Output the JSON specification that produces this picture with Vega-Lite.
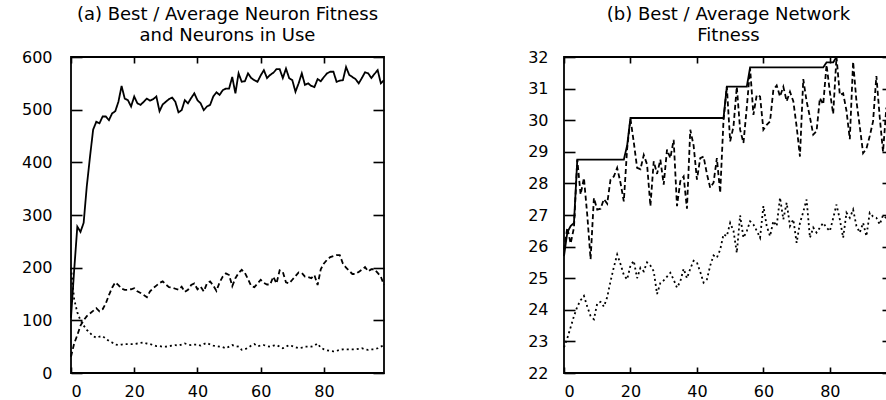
{
  "$schema": "https://vega.github.io/schema/vega-lite/v6.json",
  "background": "white",
  "padding": {"left": 20, "top": 4, "right": 0, "bottom": 0},
  "config": {
    "view": {"stroke": "black", "strokeWidth": 1.8},
    "axis": {"domain": false, "grid": false, "labelFont": "DejaVu Sans", "labelFontSize": 16, "labelColor": "black", "tickColor": "black", "tickWidth": 1.6, "title": null},
    "title": {"font": "DejaVu Sans", "fontSize": 18, "fontWeight": "normal", "color": "black", "lineHeight": 21.5, "offset": 4}
  },
  "datasets": {
    "neuron": [
      {"gen":0,"best":105,"avg":31,"third":200},{"gen":1,"best":195,"avg":56,"third":140},{"gen":2,"best":278,"avg":72,"third":115},{"gen":3,"best":268,"avg":90,"third":100},{"gen":4,"best":285,"avg":100,"third":90},
      {"gen":5,"best":355,"avg":108,"third":82},{"gen":6,"best":410,"avg":113,"third":76},{"gen":7,"best":462,"avg":118,"third":70},{"gen":8,"best":477,"avg":123,"third":67},{"gen":9,"best":474,"avg":117,"third":69},
      {"gen":10,"best":487,"avg":121,"third":70},{"gen":11,"best":487,"avg":132,"third":65},{"gen":12,"best":480,"avg":148,"third":61},{"gen":13,"best":493,"avg":162,"third":58},{"gen":14,"best":497,"avg":172,"third":54},
      {"gen":15,"best":515,"avg":167,"third":53},{"gen":16,"best":545,"avg":160,"third":54},{"gen":17,"best":521,"avg":158,"third":55},{"gen":18,"best":518,"avg":158,"third":55},{"gen":19,"best":506,"avg":159,"third":55},
      {"gen":20,"best":525,"avg":161,"third":55},{"gen":21,"best":512,"avg":155,"third":56},{"gen":22,"best":509,"avg":152,"third":57},{"gen":23,"best":515,"avg":148,"third":58},{"gen":24,"best":521,"avg":144,"third":56},
      {"gen":25,"best":517,"avg":155,"third":55},{"gen":26,"best":520,"avg":161,"third":53},{"gen":27,"best":525,"avg":166,"third":51},{"gen":28,"best":497,"avg":171,"third":51},{"gen":29,"best":510,"avg":174,"third":50},
      {"gen":30,"best":515,"avg":168,"third":50},{"gen":31,"best":520,"avg":163,"third":51},{"gen":32,"best":523,"avg":162,"third":52},{"gen":33,"best":515,"avg":160,"third":53},{"gen":34,"best":495,"avg":158,"third":52},
      {"gen":35,"best":499,"avg":164,"third":54},{"gen":36,"best":518,"avg":154,"third":56},{"gen":37,"best":512,"avg":158,"third":54},{"gen":38,"best":522,"avg":167,"third":53},{"gen":39,"best":531,"avg":170,"third":54},
      {"gen":40,"best":518,"avg":159,"third":54},{"gen":41,"best":512,"avg":164,"third":52},{"gen":42,"best":499,"avg":155,"third":55},{"gen":43,"best":506,"avg":170,"third":57},{"gen":44,"best":509,"avg":174,"third":54},
      {"gen":45,"best":525,"avg":166,"third":52},{"gen":46,"best":533,"avg":156,"third":51},{"gen":47,"best":528,"avg":172,"third":50},{"gen":48,"best":537,"avg":183,"third":49},{"gen":49,"best":540,"avg":189,"third":47},
      {"gen":50,"best":540,"avg":186,"third":50},{"gen":51,"best":562,"avg":165,"third":53},{"gen":52,"best":531,"avg":180,"third":51},{"gen":53,"best":569,"avg":190,"third":50},{"gen":54,"best":553,"avg":196,"third":44},
      {"gen":55,"best":554,"avg":190,"third":45},{"gen":56,"best":569,"avg":178,"third":48},{"gen":57,"best":560,"avg":165,"third":52},{"gen":58,"best":556,"avg":163,"third":55},{"gen":59,"best":553,"avg":170,"third":51},
      {"gen":60,"best":565,"avg":177,"third":52},{"gen":61,"best":575,"avg":171,"third":53},{"gen":62,"best":560,"avg":168,"third":51},{"gen":63,"best":566,"avg":168,"third":50},{"gen":64,"best":570,"avg":183,"third":52},
      {"gen":65,"best":577,"avg":170,"third":53},{"gen":66,"best":577,"avg":195,"third":50},{"gen":67,"best":560,"avg":192,"third":47},{"gen":68,"best":578,"avg":172,"third":50},{"gen":69,"best":560,"avg":170,"third":53},
      {"gen":70,"best":556,"avg":177,"third":51},{"gen":71,"best":534,"avg":184,"third":49},{"gen":72,"best":550,"avg":191,"third":47},{"gen":73,"best":569,"avg":190,"third":48},{"gen":74,"best":547,"avg":183,"third":50},
      {"gen":75,"best":550,"avg":182,"third":50},{"gen":76,"best":545,"avg":180,"third":50},{"gen":77,"best":543,"avg":186,"third":52},{"gen":78,"best":558,"avg":167,"third":56},{"gen":79,"best":554,"avg":197,"third":48},
      {"gen":80,"best":562,"avg":208,"third":45},{"gen":81,"best":569,"avg":215,"third":43},{"gen":82,"best":572,"avg":220,"third":42},{"gen":83,"best":572,"avg":222,"third":41},{"gen":84,"best":553,"avg":224,"third":42},
      {"gen":85,"best":555,"avg":224,"third":44},{"gen":86,"best":556,"avg":208,"third":45},{"gen":87,"best":581,"avg":200,"third":45},{"gen":88,"best":566,"avg":194,"third":45},{"gen":89,"best":562,"avg":188,"third":45},
      {"gen":90,"best":558,"avg":188,"third":45},{"gen":91,"best":550,"avg":192,"third":46},{"gen":92,"best":560,"avg":196,"third":47},{"gen":93,"best":571,"avg":201,"third":45},{"gen":94,"best":569,"avg":193,"third":44},
      {"gen":95,"best":560,"avg":197,"third":45},{"gen":96,"best":568,"avg":197,"third":45},{"gen":97,"best":575,"avg":190,"third":47},{"gen":98,"best":550,"avg":183,"third":50},{"gen":99,"best":556,"avg":167,"third":53}
    ],
    "network": [
      {"gen":0,"best":25.7,"avg":25.9,"third":22.81},{"gen":1,"best":26.45,"avg":26.6,"third":23.1},{"gen":2,"best":26.65,"avg":26.1,"third":23.45},{"gen":3,"best":26.75,"avg":26.6,"third":23.8},{"gen":4,"best":28.75,"avg":28.75,"third":24.1},
      {"gen":5,"best":28.75,"avg":27.65,"third":24.3},{"gen":6,"best":28.75,"avg":28.17,"third":24.44},{"gen":7,"best":28.75,"avg":27.0,"third":24.1},{"gen":8,"best":28.75,"avg":25.6,"third":23.8},{"gen":9,"best":28.75,"avg":27.54,"third":23.7},
      {"gen":10,"best":28.75,"avg":27.17,"third":24.2},{"gen":11,"best":28.75,"avg":27.2,"third":24.25},{"gen":12,"best":28.75,"avg":27.5,"third":24.1},{"gen":13,"best":28.75,"avg":27.36,"third":24.4},{"gen":14,"best":28.75,"avg":28.12,"third":24.9},
      {"gen":15,"best":28.75,"avg":28.22,"third":25.35},{"gen":16,"best":28.75,"avg":28.49,"third":25.75},{"gen":17,"best":28.75,"avg":28.02,"third":25.45},{"gen":18,"best":28.75,"avg":27.43,"third":25.1},{"gen":19,"best":29.2,"avg":29.1,"third":24.96},
      {"gen":20,"best":30.07,"avg":30.05,"third":25.4},{"gen":21,"best":30.07,"avg":29.3,"third":25.55},{"gen":22,"best":30.07,"avg":28.49,"third":25.0},{"gen":23,"best":30.07,"avg":28.45,"third":25.33},{"gen":24,"best":30.07,"avg":28.9,"third":25.22},
      {"gen":25,"best":30.07,"avg":28.6,"third":25.5},{"gen":26,"best":30.07,"avg":27.28,"third":25.4},{"gen":27,"best":30.07,"avg":28.7,"third":25.22},{"gen":28,"best":30.07,"avg":28.3,"third":24.5},{"gen":29,"best":30.07,"avg":28.75,"third":24.85},
      {"gen":30,"best":30.07,"avg":27.96,"third":24.93},{"gen":31,"best":30.07,"avg":29.07,"third":25.05},{"gen":32,"best":30.07,"avg":28.8,"third":25.17},{"gen":33,"best":30.07,"avg":29.38,"third":24.95},{"gen":34,"best":30.07,"avg":27.28,"third":24.7},
      {"gen":35,"best":30.07,"avg":28.07,"third":24.9},{"gen":36,"best":30.07,"avg":28.22,"third":25.3},{"gen":37,"best":30.07,"avg":27.2,"third":25.0},{"gen":38,"best":30.07,"avg":29.7,"third":25.3},{"gen":39,"best":30.07,"avg":29.2,"third":25.55},
      {"gen":40,"best":30.07,"avg":28.12,"third":25.5},{"gen":41,"best":30.07,"avg":28.8,"third":25.2},{"gen":42,"best":30.07,"avg":28.85,"third":24.86},{"gen":43,"best":30.07,"avg":28.3,"third":24.96},{"gen":44,"best":30.07,"avg":27.86,"third":25.4},
      {"gen":45,"best":30.07,"avg":28.02,"third":25.72},{"gen":46,"best":30.07,"avg":28.8,"third":25.65},{"gen":47,"best":30.07,"avg":27.7,"third":25.9},{"gen":48,"best":30.07,"avg":30.0,"third":26.39},{"gen":49,"best":31.06,"avg":31.06,"third":26.33},
      {"gen":50,"best":31.06,"avg":29.33,"third":26.75},{"gen":51,"best":31.06,"avg":29.8,"third":26.5},{"gen":52,"best":31.06,"avg":31.06,"third":25.8},{"gen":53,"best":31.06,"avg":29.7,"third":26.99},{"gen":54,"best":31.06,"avg":29.28,"third":26.28},
      {"gen":55,"best":31.06,"avg":30.4,"third":26.49},{"gen":56,"best":31.67,"avg":31.64,"third":26.8},{"gen":57,"best":31.67,"avg":30.17,"third":26.7},{"gen":58,"best":31.67,"avg":30.8,"third":26.5},{"gen":59,"best":31.67,"avg":30.75,"third":26.28},
      {"gen":60,"best":31.67,"avg":29.7,"third":27.28},{"gen":61,"best":31.67,"avg":29.85,"third":26.65},{"gen":62,"best":31.67,"avg":29.96,"third":26.33},{"gen":63,"best":31.67,"avg":30.96,"third":26.81},{"gen":64,"best":31.67,"avg":31.1,"third":26.65},
      {"gen":65,"best":31.67,"avg":30.75,"third":27.55},{"gen":66,"best":31.67,"avg":31.06,"third":26.86},{"gen":67,"best":31.67,"avg":30.6,"third":27.39},{"gen":68,"best":31.67,"avg":30.9,"third":26.65},{"gen":69,"best":31.67,"avg":30.6,"third":26.86},
      {"gen":70,"best":31.67,"avg":29.8,"third":26.12},{"gen":71,"best":31.67,"avg":28.85,"third":26.75},{"gen":72,"best":31.67,"avg":31.3,"third":27.1},{"gen":73,"best":31.67,"avg":30.6,"third":27.49},{"gen":74,"best":31.67,"avg":30.1,"third":26.28},
      {"gen":75,"best":31.67,"avg":29.54,"third":26.6},{"gen":76,"best":31.67,"avg":29.65,"third":26.44},{"gen":77,"best":31.67,"avg":30.7,"third":26.6},{"gen":78,"best":31.67,"avg":30.5,"third":26.75},{"gen":79,"best":31.83,"avg":31.75,"third":26.6},
      {"gen":80,"best":31.83,"avg":30.9,"third":26.49},{"gen":81,"best":31.83,"avg":30.2,"third":26.9},{"gen":82,"best":32.0,"avg":32.0,"third":27.33},{"gen":83,"best":32.0,"avg":30.8,"third":26.86},{"gen":84,"best":32.0,"avg":30.85,"third":26.28},
      {"gen":85,"best":32.0,"avg":30.3,"third":27.07},{"gen":86,"best":32.0,"avg":29.4,"third":26.91},{"gen":87,"best":32.0,"avg":31.85,"third":27.17},{"gen":88,"best":32.0,"avg":30.6,"third":26.65},{"gen":89,"best":32.0,"avg":29.8,"third":26.44},
      {"gen":90,"best":32.0,"avg":28.96,"third":26.75},{"gen":91,"best":32.0,"avg":29.1,"third":26.33},{"gen":92,"best":32.0,"avg":29.5,"third":27.07},{"gen":93,"best":32.0,"avg":29.96,"third":26.95},{"gen":94,"best":32.0,"avg":31.4,"third":26.91},
      {"gen":95,"best":32.0,"avg":30.1,"third":26.7},{"gen":96,"best":32.0,"avg":29.0,"third":26.99},{"gen":97,"best":32.0,"avg":30.4,"third":26.9},{"gen":98,"best":32.0,"avg":30.0,"third":26.8},{"gen":99,"best":32.0,"avg":30.2,"third":26.9}
    ]
  },
  "spacing": 180,
  "bounds": "flush",
  "resolve": {"scale": {"strokeDash": "independent"}},
  "hconcat": [
    {
      "width": 313,
      "height": 316,
      "title": {"text": ["(a) Best / Average Neuron Fitness", "and Neurons in Use"]},
      "data": {"name": "neuron"},
      "transform": [{"fold": ["best", "avg", "third"], "as": ["series", "value"]}],
      "layer": [
        {
          "mark": {"type": "line", "color": "black", "strokeWidth": 1.8},
          "encoding": {
            "x": {"field": "gen", "type": "quantitative", "scale": {"domain": [0, 99], "nice": false, "zero": false},
                  "axis": {"orient": "bottom", "values": [0, 20, 40, 60, 80], "tickSize": -6, "labelPadding": 16}},
            "y": {"field": "value", "type": "quantitative", "scale": {"domain": [0, 600], "nice": false},
                  "axis": {"orient": "left", "values": [0, 100, 200, 300, 400, 500, 600], "tickSize": -11, "labelPadding": 30}},
            "strokeDash": {"field": "series", "type": "nominal",
                           "scale": {"domain": ["best", "avg", "third"], "range": [[1, 0], [5, 3], [2, 3]]}, "legend": null}
          }
        },
        {
          "mark": {"type": "line", "opacity": 0},
          "encoding": {
            "x": {"field": "gen", "type": "quantitative", "axis": {"orient": "top", "values": [0, 20, 40, 60, 80], "tickSize": -6, "labels": false}},
            "y": {"field": "value", "type": "quantitative", "axis": {"orient": "right", "values": [0, 100, 200, 300, 400, 500, 600], "tickSize": -11, "labels": false}},
            "detail": {"field": "series", "type": "nominal"}
          }
        }
      ],
      "resolve": {"axis": {"x": "independent", "y": "independent"}}
    },
    {
      "width": 329,
      "height": 316,
      "title": {"text": ["(b) Best / Average Network", "Fitness"]},
      "data": {"name": "network"},
      "transform": [{"fold": ["best", "avg", "third"], "as": ["series", "value"]}],
      "layer": [
        {
          "mark": {"type": "line", "color": "black", "strokeWidth": 1.8},
          "encoding": {
            "x": {"field": "gen", "type": "quantitative", "scale": {"domain": [0, 99], "nice": false, "zero": false},
                  "axis": {"orient": "bottom", "values": [0, 20, 40, 60, 80], "tickSize": -6, "labelPadding": 16}},
            "y": {"field": "value", "type": "quantitative", "scale": {"domain": [22, 32], "nice": false, "zero": false},
                  "axis": {"orient": "left", "values": [22, 23, 24, 25, 26, 27, 28, 29, 30, 31, 32], "tickSize": -11, "labelPadding": 27}},
            "strokeDash": {"field": "series", "type": "nominal",
                           "scale": {"domain": ["best", "avg", "third"], "range": [[1, 0], [5, 3], [2, 3]]}, "legend": null}
          }
        },
        {
          "mark": {"type": "line", "opacity": 0},
          "encoding": {
            "x": {"field": "gen", "type": "quantitative", "axis": {"orient": "top", "values": [0, 20, 40, 60, 80], "tickSize": -6, "labels": false}},
            "y": {"field": "value", "type": "quantitative", "axis": {"orient": "right", "values": [22, 23, 24, 25, 26, 27, 28, 29, 30, 31, 32], "tickSize": -11, "labels": false}},
            "detail": {"field": "series", "type": "nominal"}
          }
        }
      ],
      "resolve": {"axis": {"x": "independent", "y": "independent"}}
    }
  ]
}
